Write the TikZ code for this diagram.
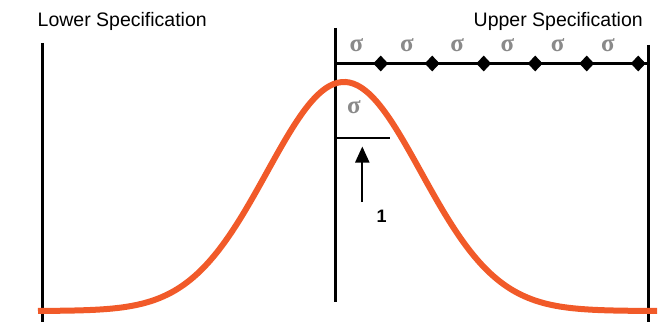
\documentclass[tikz,border=0pt]{standalone}
\usepackage{fontspec}
\setmainfont{Liberation Sans}
\newfontfamily\sigmafont{Liberation Serif}
\usetikzlibrary{arrows.meta,shapes.geometric}
\definecolor{curveorange}{HTML}{F15A29}
\definecolor{sigmagray}{HTML}{8A8A8A}

\tikzset{
  specline/.style={line width=3pt},
  speclabel/.style={font=\fontsize{19.5}{20}\selectfont, inner sep=0pt},
  sigmalabel/.style={font=\sigmafont\bfseries\fontsize{25}{25}\selectfont, text=sigmagray, inner sep=0pt},
  tick/.style={diamond, fill=black, inner sep=0pt, minimum width=15pt, minimum height=16pt},
  normcurve/.style={curveorange, line width=6pt}
}

\begin{document}
\begin{tikzpicture}[x=1pt,y=-1pt]
  \useasboundingbox (0,0) rectangle (663,329);

  % limits and mean
  \coordinate (lsltop) at (42,43);
  \coordinate (lslbot) at (42,322);
  \coordinate (usltop) at (648,45);
  \coordinate (uslbot) at (648,322);
  \coordinate (meantop) at (335,28);
  \coordinate (meanbot) at (335,302);
  \draw[specline] (lsltop) -- (lslbot);
  \draw[specline] (usltop) -- (uslbot);
  \draw[specline] (meantop) -- (meanbot);

  \node[speclabel, anchor=base west] (lowerspec) at (37.5,26.7) {Lower Specification};
  \node[speclabel, anchor=base east] (upperspec) at (643,26.5) {Upper Specification};

  % sigma scale
  \coordinate (scalestart) at (335,63.5);
  \coordinate (scaleend) at (648,63.5);
  \draw[specline] (scalestart) -- (scaleend);
  \foreach \i in {0,...,5} {
    \node[tick] (tick\i) at (380.7+51.5*\i,63.5) {};
    \node[sigmalabel] (sigma\i) at (356.5+50.3*\i,45) {σ};
  }

  % the curve
  \draw[normcurve, line join=round]
    plot[domain=38:657, samples=160, smooth]
    (\x, {311-229*exp(-0.5*((\x-344)/77)^2)});

  % one sigma step
  \node[sigmalabel] (sigmaone) at (354,107) {σ};
  \coordinate (stepleft) at (335,137.5);
  \coordinate (stepright) at (390,137.5);
  \draw[line width=2pt] (stepleft) -- (stepright);
  \coordinate (arrowtail) at (362.3,202);
  \coordinate (arrowtip) at (362.3,146.5);
  \draw[line width=2pt, -{Triangle[length=16pt,width=14pt]}] (arrowtail) -- (arrowtip);
  \node[font=\bfseries\fontsize{18}{18}\selectfont, inner sep=0pt] (stepnum) at (381.5,216.5) {1};
\end{tikzpicture}
\end{document}
